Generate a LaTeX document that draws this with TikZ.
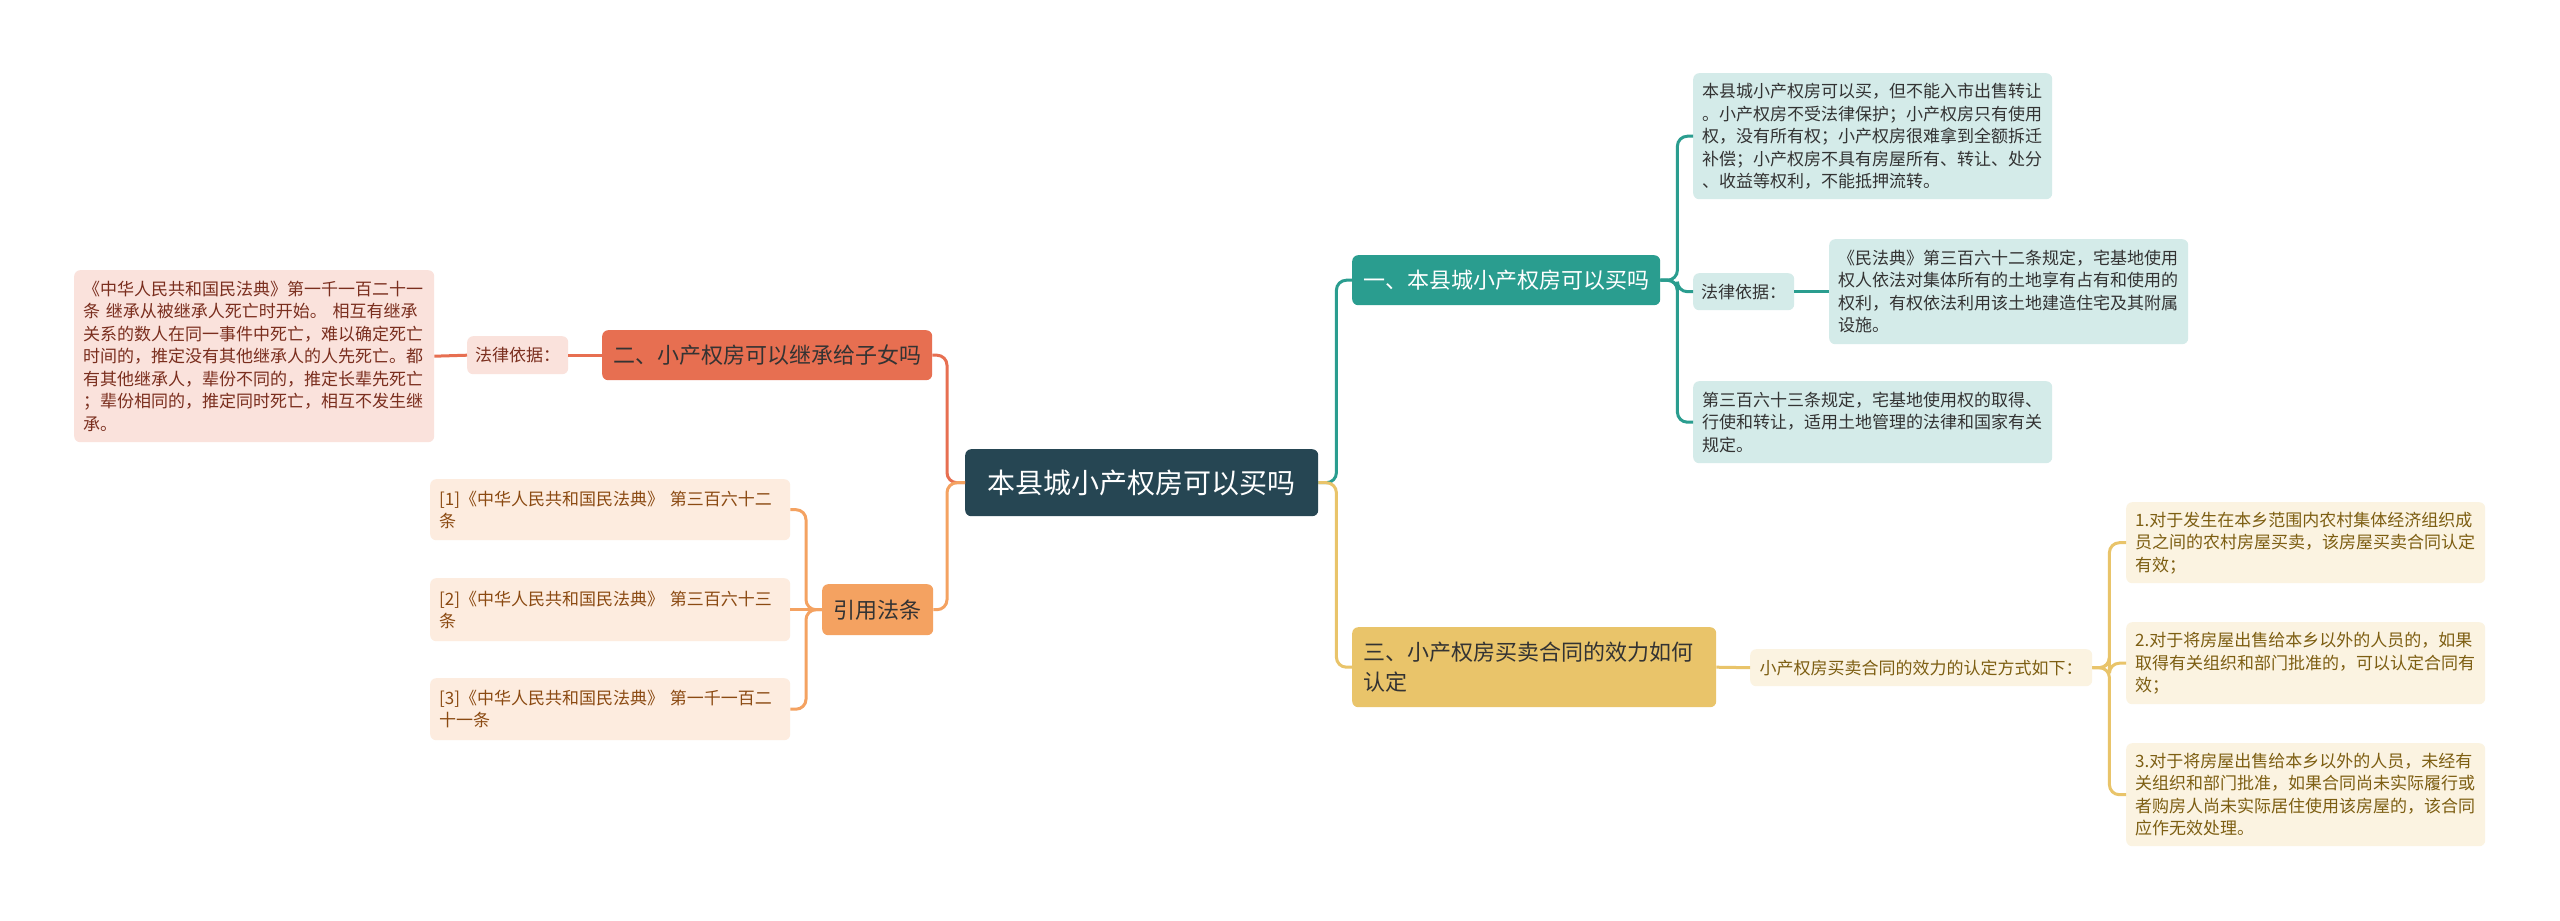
\documentclass[tikz,border=0pt]{standalone}
\usepackage{fontspec}
\setmainfont{Noto Sans CJK SC}
\definecolor{rootc}{HTML}{264653}
\definecolor{tealc}{HTML}{2A9D8F}
\definecolor{redc}{HTML}{E76F51}
\definecolor{orgc}{HTML}{F4A261}
\definecolor{yelc}{HTML}{E9C46A}
\definecolor{tealf}{HTML}{D4EBE9}
\definecolor{redf}{HTML}{FAE2DC}
\definecolor{orgf}{HTML}{FDECDF}
\definecolor{yelf}{HTML}{FBF3E1}
\definecolor{redt}{HTML}{7A2E1E}
\definecolor{orgt}{HTML}{8B4A12}
\definecolor{yelt}{HTML}{7D5E12}
\definecolor{darkt}{HTML}{333333}
\begin{document}
\begin{tikzpicture}[x=1pt,y=-1pt,
  box/.style={rounded corners=6pt, anchor=north west, inner ysep=2pt},
  rootn/.style={box, fill=rootc, text=white, inner xsep=0pt, font=\fontsize{28}{34}\selectfont},
  br/.style={box, inner xsep=0pt, font=\fontsize{22}{30}\selectfont},
  leaf/.style={box, inner xsep=9pt, align=left, font=\fontsize{17}{22.5}\selectfont},
  lab/.style={box, inner xsep=0pt, font=\fontsize{17}{22.5}\selectfont},
  conn/.style={line width=3pt, rounded corners=10pt}
]
\fill[white] (0,0) rectangle (2560,921);
\useasboundingbox (0,0) rectangle (2560,921);

% root
\node[rootn, minimum width=353pt, minimum height=67pt] (root) at (965,449) {本县城小产权房可以买吗};

% branch 1
\node[br, fill=tealc, text=white, minimum width=308pt, minimum height=50pt] (b1) at (1352,255) {一、本县城小产权房可以买吗};
\node[leaf, fill=tealf, text=darkt, text width=341pt, minimum height=126pt] (A) at (1693,73)
  {本县城小产权房可以买，但不能入市出售转让\\。小产权房不受法律保护；小产权房只有使用\\权，没有所有权；小产权房很难拿到全额拆迁\\补偿；小产权房不具有房屋所有、转让、处分\\、收益等权利，不能抵押流转。};
\node[lab, fill=tealf, text=darkt, minimum width=101pt, minimum height=37pt] (L1) at (1693,273) {法律依据：};
\node[leaf, fill=tealf, text=darkt, text width=341pt, minimum height=105pt] (B) at (1829,239)
  {《民法典》第三百六十二条规定，宅基地使用\\权人依法对集体所有的土地享有占有和使用的\\权利，有权依法利用该土地建造住宅及其附属\\设施。};
\node[leaf, fill=tealf, text=darkt, text width=341pt, minimum height=82pt] (C) at (1693,381)
  {第三百六十三条规定，宅基地使用权的取得、\\行使和转让，适用土地管理的法律和国家有关\\规定。};

% branch 2
\node[br, fill=redc, text=darkt, minimum width=330pt, minimum height=50pt] (b2) at (602,330) {二、小产权房可以继承给子女吗};
\node[lab, fill=redf, text=redt, minimum width=101pt, minimum height=38pt] (L2) at (467,336) {法律依据：};
\node[leaf, fill=redf, text=redt, text width=342pt, minimum height=172pt] (R) at (74,270)
  {《中华人民共和国民法典》第一千一百二十一\\条~继承从被继承人死亡时开始。~相互有继承\\关系的数人在同一事件中死亡，难以确定死亡\\时间的，推定没有其他继承人的人先死亡。都\\有其他继承人，辈份不同的，推定长辈先死亡\\；辈份相同的，推定同时死亡，相互不发生继\\承。};

% branch 4 (citations)
\node[br, fill=orgc, text=darkt, minimum width=111pt, minimum height=51pt] (b4) at (822,584) {引用法条};
\node[leaf, fill=orgf, text=orgt, text width=342pt, minimum height=61pt] (C1) at (430,479)
  {[1]《中华人民共和国民法典》~第三百六十二\\条};
\node[leaf, fill=orgf, text=orgt, text width=342pt, minimum height=63pt] (C2) at (430,578)
  {[2]《中华人民共和国民法典》~第三百六十三\\条};
\node[leaf, fill=orgf, text=orgt, text width=342pt, minimum height=62pt] (C3) at (430,678)
  {[3]《中华人民共和国民法典》~第一千一百二\\十一条};

% branch 3
\node[br, fill=yelc, text=darkt, inner xsep=11pt, align=left, text width=342pt, minimum height=80pt] (b3) at (1352,627)
  {三、小产权房买卖合同的效力如何\\认定};
\node[lab, fill=yelf, text=yelt, minimum width=342pt, minimum height=37pt] (L3) at (1750,649) {小产权房买卖合同的效力的认定方式如下：};
\node[leaf, fill=yelf, text=yelt, text width=341pt, minimum height=81pt] (Y1) at (2126,502)
  {1.对于发生在本乡范围内农村集体经济组织成\\员之间的农村房屋买卖，该房屋买卖合同认定\\有效；};
\node[leaf, fill=yelf, text=yelt, text width=341pt, minimum height=82pt] (Y2) at (2126,622)
  {2.对于将房屋出售给本乡以外的人员的，如果\\取得有关组织和部门批准的，可以认定合同有\\效；};
\node[leaf, fill=yelf, text=yelt, text width=341pt, minimum height=103pt] (Y3) at (2126,743)
  {3.对于将房屋出售给本乡以外的人员，未经有\\关组织和部门批准，如果合同尚未实际履行或\\者购房人尚未实际居住使用该房屋的，该合同\\应作无效处理。};

% connectors
\draw[conn, tealc] (root.east) -- ++(18,0) |- (b1.west);
\draw[conn, yelc] (root.east) -- ++(18,0) |- (b3.west);
\draw[conn, redc] (root.west) -- ++(-18,0) |- (b2.east);
\draw[conn, orgc] (root.west) -- ++(-18,0) |- (b4.east);

\draw[conn, tealc] (b1.east) -- ++(17,0) |- (A.west);
\draw[conn, tealc] (b1.east) -- ++(17,0) |- (L1.west);
\draw[conn, tealc] (b1.east) -- ++(17,0) |- (C.west);
\draw[conn, tealc] (L1.east) -- (B.west);

\draw[conn, redc] (b2.west) -- (L2.east);
\draw[conn, redc] (L2.west) -- (R.east);

\draw[conn, orgc] (b4.west) -- ++(-16,0) |- (C1.east);
\draw[conn, orgc] (b4.west) -- (C2.east);
\draw[conn, orgc] (b4.west) -- ++(-16,0) |- (C3.east);

\draw[conn, yelc] (b3.east) -- (L3.west);
\draw[conn, yelc] (L3.east) -- ++(17,0) |- (Y1.west);
\draw[conn, yelc] (L3.east) -- ++(17,0) |- (Y2.west);
\draw[conn, yelc] (L3.east) -- ++(17,0) |- (Y3.west);
\end{tikzpicture}
\end{document}
